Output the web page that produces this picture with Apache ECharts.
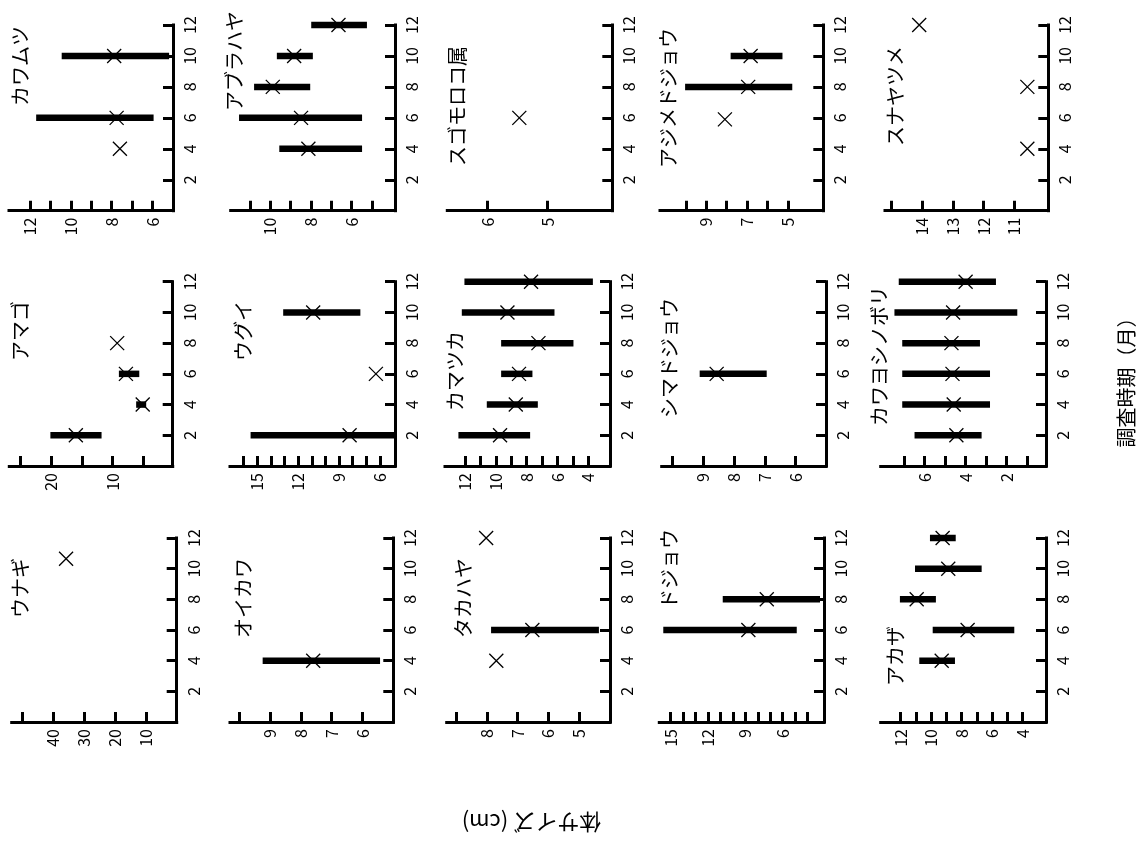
<!DOCTYPE html>
<html>
<head>
<meta charset="utf-8">
<script src="https://cdn.jsdelivr.net/npm/echarts@6/dist/echarts.min.js"></script>
<style>
html, body { margin: 0; background: #fff; }
#chart { width: 1140px; height: 843px; }
</style>
</head>
<body>
<div id="chart"></div>
<script>
// 各魚種 [月, 平均, 最小, 最大]  (範囲が無い月は null)
var kawamutsu = [[4, 7.6, null, null], [6, 7.76, 5.95, 11.7], [10, 7.88, 5.19, 10.45]];
var aburahaya = [[4, 8.13, 5.49, 9.56], [6, 8.49, 5.49, 11.54], [8, 9.88, 8.04, 10.8], [10, 8.83, 7.91, 9.68], [12, 6.65, 5.25, 7.99]];
var sugomoroko = [[6, 5.47, null, null]];
var ajimedojou = [[5.9, 8.09, null, null], [8, 6.95, 4.79, 10.04], [10, 6.83, 5.27, 7.81]];
var sunayatsume = [[4, 10.58, null, null], [8, 10.58, null, null], [12, 14.09, null, null]];
var amago = [[2, 16.0, 11.8, 20.16], [4, 5.08, 4.51, 6.15], [6, 7.82, 5.64, 8.97], [8, 9.25, null, null]];
var ugui = [[2, 8.23, 4.9, 15.49], [6, 6.3, null, null], [10, 10.9, 7.44, 13.1]];
var kamatsuka = [[2, 9.73, 7.78, 12.43], [4, 8.71, 7.28, 10.59], [6, 8.5, 7.63, 9.66], [8, 7.24, 4.97, 9.66], [10, 9.25, 6.2, 12.21], [12, 7.72, 3.71, 12.04]];
var shimadojou = [[6, 8.56, 6.94, 9.11]];
var kawayoshinobori = [[2, 4.45, 3.22, 6.49], [4, 4.58, 2.81, 7.09], [6, 4.64, 2.81, 7.09], [8, 4.69, 3.3, 7.09], [10, 4.61, 1.48, 7.47], [12, 4.0, 2.52, 7.26]];
var unagi = [[10.65, 35.9, null, null]];
var oikawa = [[4, 7.6, 5.43, 9.24]];
var takahaya = [[4, 7.69, null, null], [6, 6.52, 4.36, 7.86], [12, 8.02, null, null]];
var dojou = [[6, 8.76, 4.87, 15.6], [8, 7.28, 3.0, 10.82]];
var akaza = [[4, 9.31, 8.44, 10.78], [6, 7.61, 4.55, 9.9], [8, 10.95, 9.69, 12.05], [10, 8.88, 6.69, 11.06], [12, 9.25, 8.39, 10.08]];

var names = ['カワムツ', 'アブラハヤ', 'スゴモロコ属', 'アジメドジョウ', 'スナヤツメ',
	'アマゴ', 'ウグイ', 'カマツカ', 'シマドジョウ', 'カワヨシノボリ',
	'ウナギ', 'オイカワ', 'タカハヤ', 'ドジョウ', 'アカザ'];
var fishData = [kawamutsu, aburahaya, sugomoroko, ajimedojou, sunayatsume,
	amago, ugui, kamatsuka, shimadojou, kawayoshinobori,
	unagi, oikawa, takahaya, dojou, akaza];

// 体サイズ軸の目盛とラベル
var sizeTicks = [
	[6, 7, 8, 9, 10, 11, 12], [5, 6, 7, 8, 9, 10, 11], [5, 6], [5, 6, 7, 8, 9, 10], [11, 12, 13, 14, 15],
	[5, 10, 15, 20, 25], [6, 7, 8, 9, 10, 11, 12, 13, 14, 15, 16], [4, 5, 6, 7, 8, 9, 10, 11, 12], [6, 7, 8, 9, 10], [1, 2, 3, 4, 5, 6, 7],
	[10, 20, 30, 40, 50], [6, 7, 8, 9, 10], [5, 6, 7, 8, 9], [4, 5, 6, 7, 8, 9, 10, 11, 12, 13, 14, 15], [4, 5, 6, 7, 8, 9, 10, 11, 12]
];
var sizeLabels = [
	[6, 8, 10, 12], [6, 8, 10], [5, 6], [5, 7, 9], [11, 12, 13, 14],
	[10, 20], [6, 9, 12, 15], [4, 6, 8, 10, 12], [6, 7, 8, 9], [2, 4, 6],
	[10, 20, 30, 40], [6, 7, 8, 9], [5, 6, 7, 8], [6, 9, 12, 15], [4, 6, 8, 10, 12]
];
var monthTicks = [2, 4, 6, 8, 10, 12];

// 軸の表示範囲 [右端, 左端]
var sizeRanges = [
	[5.0, 13.03], [3.87, 11.95], [3.92, 6.67], [3.27, 11.27], [9.9, 15.2],
	[0.18, 26.87], [4.9, 17.0], [2.6, 13.3], [5.02, 10.34], [0.08, 8.14],
	[0.1, 53.5], [5.0, 10.3], [4.0, 9.3], [2.68, 15.92], [2.47, 13.31]
];

// レイアウト: left, top, right, bottom (px)
var boxes = [
	[9, 25, 173, 210.7], [230.7, 25, 395, 210.7], [447.3, 25, 612.3, 210.7], [660, 25, 823.3, 210.7], [885, 25, 1048.3, 210.7],
	[9.3, 281.7, 172.7, 466], [230, 281.7, 395, 466], [445, 281.7, 610, 466], [661.7, 281.7, 826, 466], [880.7, 281.7, 1046, 466],
	[11.7, 538, 176.7, 722], [230, 538, 393.3, 722], [446.7, 538, 610, 722], [659.3, 538, 824, 722], [880.7, 538, 1046, 722]
];
// 魚種名の位置 (中心x, 下端y)
var titlePos = [
	[20.5, 106], [234.5, 111], [457, 166], [668.5, 168], [895.5, 146],
	[20.5, 361], [243, 361], [455.5, 411], [669.5, 418], [879, 426],
	[20.5, 618], [243, 638], [463.5, 638], [669.5, 609], [895, 686]
];

var FONT = '"Noto Sans CJK JP", "Noto Sans", sans-serif';

var grids = [], xAxes = [], yAxes = [], series = [], graphics = [];

for (var i = 0; i < names.length; i++) {
	var b = boxes[i];
	grids.push({ left: b[0], top: b[1], width: b[2] - b[0], height: b[3] - b[1] });

	xAxes.push({
		gridIndex: i,
		type: 'value',
		inverse: true,
		min: sizeRanges[i][0],
		max: sizeRanges[i][1],
		position: 'bottom',
		axisLine: { show: true, onZero: false, lineStyle: { color: '#000', width: 3, cap: 'square' } },
		axisTick: { show: true, inside: true, length: 10, customValues: sizeTicks[i], lineStyle: { color: '#000', width: 3 } },
		axisLabel: { rotate: 90, margin: 7, color: '#000', fontSize: 16, fontFamily: FONT, customValues: sizeLabels[i] },
		splitLine: { show: false }
	});
	yAxes.push({
		gridIndex: i,
		type: 'value',
		min: 0,
		max: 12,
		position: 'right',
		axisLine: { show: true, onZero: false, lineStyle: { color: '#000', width: 3, cap: 'square' } },
		axisTick: { show: true, inside: true, length: 10, customValues: monthTicks, lineStyle: { color: '#000', width: 3 } },
		axisLabel: { rotate: 90, margin: 9, color: '#000', fontSize: 16, fontFamily: FONT, customValues: monthTicks },
		splitLine: { show: false }
	});

	var ranges = [], means = [];
	fishData[i].forEach(function(d) {
		means.push([d[1], d[0]]);
		if (d[2] != null) ranges.push([d[0], d[2], d[3]]);
	});

	series.push({
		type: 'custom',
		xAxisIndex: i,
		yAxisIndex: i,
		silent: true,
		data: ranges,
		encode: { x: [1, 2], y: 0 },
		renderItem: function(params, api) {
			var p1 = api.coord([api.value(1), api.value(0)]);
			var p2 = api.coord([api.value(2), api.value(0)]);
			return {
				type: 'line',
				shape: { x1: p1[0], y1: p1[1], x2: p2[0], y2: p2[1] },
				style: { stroke: '#000', lineWidth: 6.5, lineCap: 'butt' }
			};
		}
	});
	series.push({
		type: 'scatter',
		xAxisIndex: i,
		yAxisIndex: i,
		silent: true,
		data: means,
		symbol: 'path://M0 0L10 10M10 0L0 10',
		symbolSize: 14,
		itemStyle: { color: 'none', borderColor: '#000', borderWidth: 1.3, opacity: 1 }
	});

	graphics.push({
		type: 'text',
		x: titlePos[i][0],
		y: titlePos[i][1],
		rotation: Math.PI / 2,
		style: { text: names[i], fontSize: 20, fontFamily: FONT, fill: '#000', align: 'left', verticalAlign: 'middle', textAlign: 'left', textVerticalAlign: 'middle' }
	});
}

graphics.push({
	type: 'text',
	x: 1126,
	y: 377.5,
	rotation: Math.PI / 2,
	style: { text: '調査時期（月）', fontSize: 20, fontFamily: FONT, fill: '#000', align: 'center', verticalAlign: 'middle', textAlign: 'center', textVerticalAlign: 'middle' }
});
graphics.push({
	type: 'text',
	x: 531.5,
	y: 822,
	rotation: Math.PI,
	style: { text: '体サイズ (cm)', fontSize: 22, fontFamily: FONT, fill: '#000', align: 'center', verticalAlign: 'middle', textAlign: 'center', textVerticalAlign: 'middle' }
});

var chart = echarts.init(document.getElementById('chart'));
chart.setOption({
	backgroundColor: '#fff',
	animation: false,
	grid: grids,
	xAxis: xAxes,
	yAxis: yAxes,
	series: series,
	graphic: graphics
});
</script>
</body>
</html>
